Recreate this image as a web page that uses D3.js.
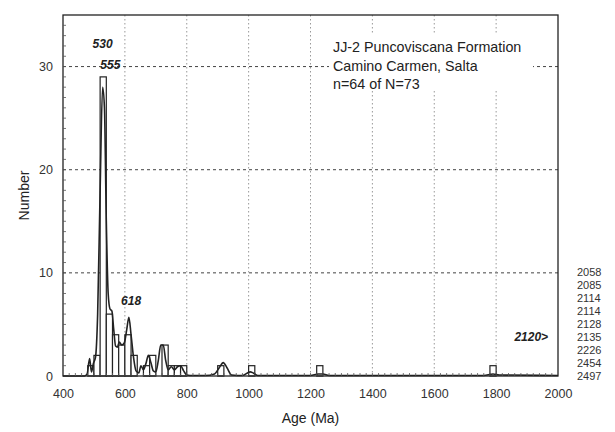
<!DOCTYPE html>
<html><head><meta charset="utf-8">
<script src="https://cdn.jsdelivr.net/npm/d3@7"></script>
<style>body{margin:0;background:#fff}svg{display:block}text{font-family:"Liberation Sans",Arial,sans-serif}</style>
</head><body><svg id="c" width="615" height="432"></svg>
<script>
const binWidth = 20;
const binStarts = [480,500,520,540,560,580,600,620,660,680,720,740,760,780,900,1000,1220,1780];
const binCounts = [1,2,29,6,4,3,4,2,1,2,3,1,1,1,1,1,1,1];
const curveAges = [400,470,478,486,492,498,505,512,520,528,534,540,546,552,558,564,570,576,582,590,598,606,613,620,628,636,645,652,660,668,676,684,692,700,708,716,724,732,740,750,760,770,780,790,800,820,860,890,905,918,930,945,980,1005,1015,1030,1200,1225,1240,1260,1760,1790,1810,2000];
const curveVals = [0,0,0.2,1.7,0.4,1.2,1.8,6,18,28,26,15,8,6.5,6.3,4.5,2.9,2.8,3.3,3.0,3.2,4.5,5.7,4.0,1.8,0.5,0.3,1.0,0.6,1.2,2.0,1.3,0.5,0.4,1.5,3.0,3.0,1.5,0.6,0.9,0.6,0.9,1.0,0.5,0.1,0.05,0.05,0.2,0.8,1.3,0.8,0.1,0.05,0.4,0.3,0.05,0.05,0.2,0.2,0.05,0.05,0.2,0.1,0.05];
const xTicks = [400,600,800,1000,1200,1400,1600,1800,2000];
const yTicks = [0,10,20,30];
const peakLabels = [{t:"530",a:528,v:31.8},{t:"555",a:553,v:29.8},{t:"618",a:620,v:6.9}];
const titleLines = ["JJ-2 Puncoviscana Formation","Camino Carmen, Salta","n=64 of N=73"];
const overAges = ["2058","2085","2114","2114","2128","2135","2226","2454","2497"];

const svg = d3.select("#c");
const L=63,R=558,T=15,B=376;
const x = d3.scaleLinear().domain([400,2000]).range([L,R]);
const y = d3.scaleLinear().domain([0,35]).range([B,T]);
const ink="#222";

// grid
const g = svg.append("g");
g.selectAll(".hg").data(yTicks.filter(d=>d>0)).join("line")
 .attr("x1",L).attr("x2",R).attr("y1",d=>y(d)).attr("y2",d=>y(d))
 .attr("stroke","#444").attr("stroke-width",1).attr("stroke-dasharray","3,3");
g.selectAll(".vg").data(xTicks.filter(d=>d>400&&d<2000)).join("line")
 .attr("x1",d=>x(d)).attr("x2",d=>x(d)).attr("y1",T).attr("y2",B)
 .attr("stroke","#999").attr("stroke-width",1).attr("stroke-dasharray","1.5,2.5");

// bars
const bins = binStarts.map((s,i)=>({s,c:binCounts[i]}));
svg.append("g").selectAll("rect").data(bins).join("rect")
 .attr("x",d=>x(d.s)).attr("width",d=>x(d.s+binWidth)-x(d.s))
 .attr("y",d=>y(d.c)).attr("height",d=>y(0)-y(d.c))
 .attr("fill","#fff").attr("stroke",ink).attr("stroke-width",1.2);

// curve
const pts = curveAges.map((a,i)=>[a,curveVals[i]]);
svg.append("path").datum(pts)
 .attr("d",d3.line().x(d=>x(d[0])).y(d=>y(d[1])).curve(d3.curveMonotoneX))
 .attr("fill","none").attr("stroke",ink).attr("stroke-width",1.6);

// frame
svg.append("rect").attr("x",L).attr("y",T).attr("width",R-L).attr("height",B-T)
 .attr("fill","none").attr("stroke",ink).attr("stroke-width",1.3);

// axes
const xAxis = svg.append("g").attr("transform",`translate(0,${B})`)
 .call(d3.axisBottom(x).tickValues(xTicks).tickSize(0).tickPadding(13).tickFormat(d3.format("d")));
xAxis.select(".domain").remove();
xAxis.selectAll("text").attr("font-size",12.5).attr("fill","#333");
const yAxis = svg.append("g").attr("transform",`translate(${L},0)`)
 .call(d3.axisLeft(y).tickValues(yTicks).tickSize(0).tickPadding(10));
yAxis.select(".domain").remove();
yAxis.selectAll("text").attr("font-size",12.5).attr("fill","#333");

// minor ticks (inside)
svg.append("g").selectAll("line").data(d3.range(420,2000,20)).join("line")
 .attr("x1",d=>x(d)).attr("x2",d=>x(d)).attr("y1",B).attr("y2",B-3)
 .attr("stroke","#555").attr("stroke-width",0.8);
svg.append("g").selectAll("line").data(d3.range(1,35,1)).join("line")
 .attr("x1",L).attr("x2",L+3).attr("y1",d=>y(d)).attr("y2",d=>y(d))
 .attr("stroke","#555").attr("stroke-width",0.8);

// axis titles
svg.append("text").attr("x",x(1200)).attr("y",423).attr("text-anchor","middle")
 .attr("font-size",14).attr("fill","#222").text("Age (Ma)");
svg.append("text").attr("transform",`translate(29,${(T+B)/2}) rotate(-90)`)
 .attr("text-anchor","middle").attr("font-size",14).attr("fill","#222").text("Number");

// title block with white backing
svg.append("rect").attr("x",329).attr("y",35).attr("width",204).attr("height",56).attr("fill","#fff");
svg.append("g").selectAll("text").data(titleLines).join("text")
 .attr("x",333).attr("y",(d,i)=>52+i*18.5).attr("font-size",14.3).attr("fill","#222").text(d=>d);

// peak labels
svg.append("g").selectAll("text").data(peakLabels).join("text")
 .attr("x",d=>x(d.a)).attr("y",d=>y(d.v)).attr("text-anchor","middle")
 .attr("font-size",12).attr("font-weight","bold").attr("font-style","italic").attr("fill","#222").text(d=>d.t);

svg.append("text").attr("x",x(1968)).attr("y",y(3.4)).attr("text-anchor","end")
 .attr("font-size",12).attr("font-weight","bold").attr("font-style","italic").attr("fill","#222").text("2120>");

// over-range ages
svg.append("g").selectAll("text").data(overAges).join("text")
 .attr("x",577).attr("y",(d,i)=>276+i*13).attr("font-size",11).attr("fill","#333").text(d=>d);
</script></body></html>
